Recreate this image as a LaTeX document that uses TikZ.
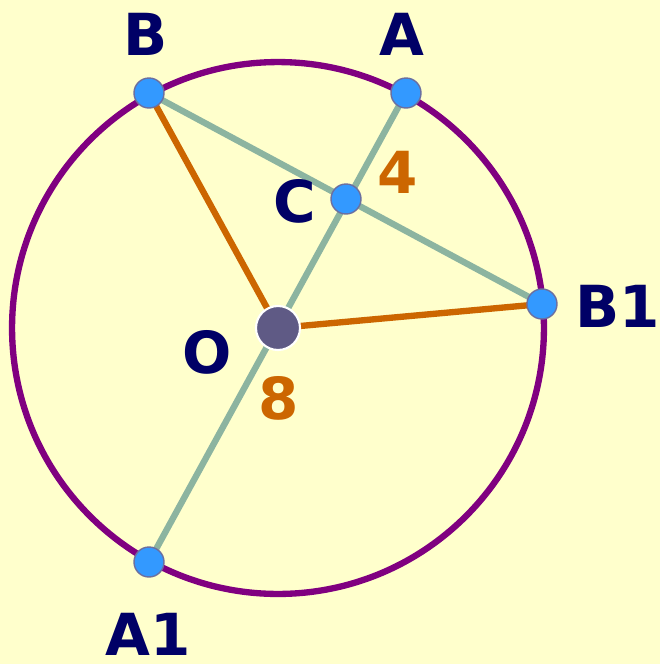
\documentclass[tikz,border=0pt]{standalone}
\usepackage{fontspec}
\setmainfont{DejaVu Sans}
\definecolor{bgyellow}{HTML}{FFFFCC}
\definecolor{rimpurple}{HTML}{800080}
\definecolor{chordgreen}{HTML}{8CB4A0}
\definecolor{radiusorange}{HTML}{CC6600}
\definecolor{labelnavy}{HTML}{000066}
\definecolor{ptblue}{HTML}{3399FF}
\definecolor{ptrim}{HTML}{6B6FA0}
\definecolor{centrefill}{HTML}{5F5A85}
\tikzset{
  gpoint/.style={circle, draw=ptrim, line width=0.8pt, fill=ptblue,
                 minimum size=0.6cm, inner sep=0pt},
  gcentre/.style={circle, draw=white, line width=1.2pt, fill=centrefill,
                  minimum size=0.88cm, inner sep=0pt},
  grim/.style={draw=rimpurple, line width=3.6pt},
  gchord/.style={draw=chordgreen, line width=3.6pt},
  gradius/.style={draw=radiusorange, line width=3.6pt},
  glabel/.style={text=labelnavy, inner sep=0pt,
                 font=\fontsize{33}{38}\selectfont\bfseries},
  gnumber/.style={glabel, text=radiusorange}
}
\begin{document}
\begin{tikzpicture}[x=0.02cm, y=-0.02cm]
  \fill[bgyellow] (0,0) rectangle (660,664);
  \useasboundingbox (0,0) rectangle (660,664);
  \coordinate (centre) at (278, 328);
  \draw[grim] (centre) circle[radius=5.32cm];
  % points on the rim and the crossing of the chords
  \foreach \name/\x/\y in {B/149/93, A/406/93, C/346/199, B1/542/304, A1/149/562} {
    \coordinate (\name) at (\x, \y);
  }
  \draw[gchord] (A) -- (A1);
  \draw[gchord] (B) -- (B1);
  \foreach \end in {B, B1} {
    \draw[gradius] (centre) -- (\end);
  }
  \foreach \name in {B, A, C, B1, A1} {
    \node[gpoint] (p\name) at (\name) {};
  }
  \node[gcentre] (O) at (centre) {};
  % letters
  \node[glabel] (lB)  at (146, 34)  {B};
  \node[glabel] (lA)  at (402, 34)  {A};
  \node[glabel] (lC)  at (295, 201) {C};
  \node[glabel] (lB1) at (618, 306) {B1};
  \node[glabel] (lO)  at (207, 352) {O};
  \node[glabel] (lA1) at (148, 634) {A1};
  \node[gnumber] (n4) at (398, 172) {4};
  \node[gnumber] (n8) at (279, 398) {8};
\end{tikzpicture}
\end{document}
